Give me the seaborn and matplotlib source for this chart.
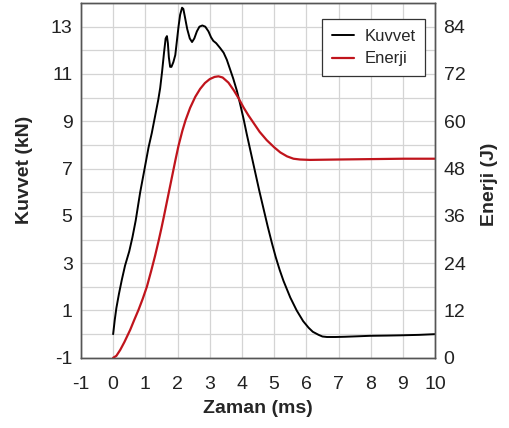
import matplotlib
matplotlib.use("Agg")
import matplotlib.pyplot as plt
from matplotlib.ticker import MultipleLocator, FixedLocator
import seaborn as sns
import pandas as pd

# Force history (kN) over time (ms)
force_time = [0.0, 0.05, 0.1, 0.18, 0.27, 0.37, 0.5, 0.6, 0.7, 0.84, 0.95, 1.1, 1.2,
              1.3, 1.4, 1.46, 1.52, 1.58, 1.63, 1.67, 1.7, 1.73, 1.77, 1.81, 1.87,
              1.93, 1.98, 2.03, 2.08, 2.14, 2.18, 2.23, 2.3, 2.38, 2.45, 2.52, 2.6,
              2.68, 2.77, 2.86, 2.96, 3.04, 3.11, 3.2, 3.32, 3.43, 3.53, 3.63, 3.73,
              3.84, 3.94, 4.05, 4.15, 4.28, 4.41, 4.54, 4.67, 4.8, 4.93, 5.05, 5.17,
              5.29, 5.5, 5.7, 5.9, 6.07, 6.2, 6.38, 6.5, 6.64, 6.9, 7.2, 7.6, 7.98,
              8.5, 8.91, 9.5, 10.0]
force_kn = [0.0, 0.6, 1.1, 1.7, 2.3, 2.9, 3.5, 4.1, 4.8, 6.0, 6.8, 7.9, 8.5,
            9.2, 9.9, 10.4, 11.1, 11.9, 12.5, 12.6, 12.3, 11.7, 11.3, 11.3, 11.5,
            11.8, 12.4, 13.0, 13.5, 13.8, 13.75, 13.4, 12.9, 12.5, 12.35, 12.5, 12.8,
            13.0, 13.05, 13.0, 12.8, 12.55, 12.4, 12.3, 12.1, 11.9, 11.6, 11.2, 10.8,
            10.3, 9.75, 9.1, 8.45, 7.65, 6.85, 6.05, 5.3, 4.55, 3.85, 3.25, 2.72,
            2.25, 1.55, 1.0, 0.55, 0.27, 0.1, -0.03, -0.1, -0.12, -0.12, -0.11, -0.09, -0.07,
            -0.06, -0.05, -0.03, 0.0]

# Absorbed energy (J) over time (ms)
energy_time = [0.0, 0.1, 0.22, 0.35, 0.53, 0.65, 0.79, 0.92, 1.05, 1.18, 1.3, 1.41,
               1.5, 1.58, 1.67, 1.75, 1.83, 1.93, 2.03, 2.15, 2.25, 2.39, 2.55, 2.7,
               2.85, 3.0, 3.15, 3.27, 3.4, 3.58, 3.75, 3.89, 4.05, 4.2, 4.35, 4.55,
               4.77, 5.0, 5.19, 5.4, 5.6, 5.8, 6.11, 7.0, 8.0, 9.0, 10.0]
energy_j = [0.0, 0.5, 2.0, 4.0, 7.1, 9.5, 12.2, 15.0, 18.1, 22.0, 25.8, 29.6,
            32.9, 36.0, 39.6, 42.8, 46.0, 50.0, 53.8, 57.6, 60.3, 63.4, 66.2, 68.2,
            69.7, 70.7, 71.25, 71.4, 71.1, 69.8, 67.8, 65.9, 63.5, 61.5, 59.7, 57.3,
            55.2, 53.4, 52.1, 51.1, 50.5, 50.3, 50.2, 50.3, 50.4, 50.5, 50.5]

x_ticks = list(range(-1, 11))
force_ticks = list(range(-1, 14, 2))
energy_ticks = list(range(0, 85, 12))

force_df = pd.DataFrame({"Zaman": force_time, "Kuvvet": force_kn})
energy_df = pd.DataFrame({"Zaman": energy_time, "Enerji": energy_j})

sns.set_style("white")
plt.rcParams["font.family"] = ["Liberation Sans", "DejaVu Sans"]
plt.rcParams["axes.unicode_minus"] = False

fig = plt.figure(figsize=(5.09, 4.28), dpi=100)
ax = fig.add_axes([0.159, 0.164, 0.696, 0.829])
ax2 = ax.twinx()

sns.lineplot(data=force_df, x="Zaman", y="Kuvvet", ax=ax, color="black",
             linewidth=1.4, label="Kuvvet", legend=False)
sns.lineplot(data=energy_df, x="Zaman", y="Enerji", ax=ax2, color="#c0141c",
             linewidth=1.6, label="Enerji", legend=False)

ax.set_xlim(-1, 10)
ax.set_ylim(-1, 14)
ax2.set_ylim(0, 90)

ax.xaxis.set_major_locator(FixedLocator(x_ticks))
ax.yaxis.set_major_locator(FixedLocator(force_ticks))
ax.yaxis.set_minor_locator(MultipleLocator(1))
ax2.yaxis.set_major_locator(FixedLocator(energy_ticks))

ax.grid(True, which="both", color="#d4d4d4", linewidth=0.9)
ax.set_axisbelow(True)
ax2.grid(False)

ax.tick_params(axis="x", length=0, labelsize=14, pad=13, colors="#222222")
ax.tick_params(axis="y", which="both", length=0, labelsize=14, pad=6, colors="#222222")
ax2.tick_params(axis="y", length=0, labelsize=14, pad=6, colors="#222222")

ax.set_xlabel("Zaman (ms)", fontsize=14, fontweight="bold")
ax.set_ylabel("Kuvvet (kN)", fontsize=14, fontweight="bold")
ax2.set_ylabel("Enerji (J)", fontsize=14, fontweight="bold")
ax.xaxis.set_label_coords(0.5, -0.12)
ax.yaxis.set_label_coords(-0.136, 0.53)
ax2.yaxis.set_label_coords(1.128, 0.49)

for a in (ax, ax2):
    for s in a.spines.values():
        s.set_color("#555555")
        s.set_linewidth(1.0)

h1, l1 = ax.get_legend_handles_labels()
h2, l2 = ax2.get_legend_handles_labels()
leg = ax2.legend(h1 + h2, l1 + l2, loc="upper right", bbox_to_anchor=(0.972, 0.955),
                 borderaxespad=0, fontsize=12, frameon=True, fancybox=False,
                 edgecolor="#333333", framealpha=1, handlelength=1.35,
                 borderpad=0.6, labelspacing=0.45, handletextpad=0.6)
leg.get_frame().set_linewidth(0.9)

fig.savefig("out.png", dpi=100)
